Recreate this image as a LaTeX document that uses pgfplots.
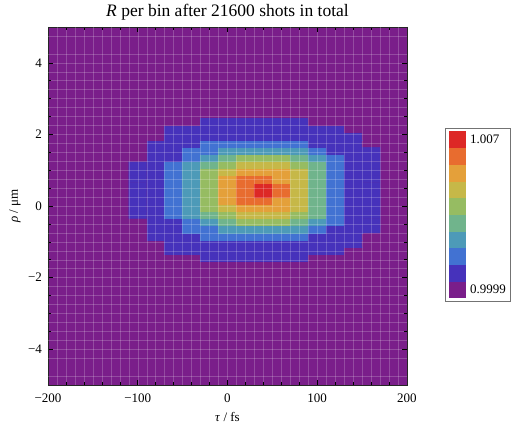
\documentclass[border=0pt]{standalone}
\usepackage{fontspec}
\setmainfont{Liberation Serif}
\usepackage{pgfplots}
\pgfplotsset{compat=1.18}
\definecolor{c0}{RGB}{122,30,138}
\begin{document}
\begin{tikzpicture}
\path[use as bounding box] (-48pt,-39pt) rectangle (466pt,385pt);
\begin{axis}[
  scale only axis, width=359pt, height=358pt,
  xmin=-200,xmax=200,ymin=-5,ymax=5,
  xtick={-200,-100,0,100,200}, xticklabels={−200,−100,0,100,200},
  ytick={-4,-2,0,2,4}, yticklabels={−4,−2,0,2,4},
  minor x tick num=4, minor y tick num=3,
  major tick length=5pt, minor tick length=3pt,
  tick style={black, line width=0.5pt},
  axis line style={black!85, line width=0.6pt},
  tick label style={font=\fontsize{13}{15}\selectfont},
  xticklabel style={anchor=base, yshift=-17pt},
  yticklabel style={anchor=east, xshift=-2.5pt},
  title={\textit{R} per bin after 21600 shots in total},
  title style={at={(axis description cs:0.5,1)}, anchor=base, yshift=4.5pt, font=\fontsize{17.5}{20}\selectfont},
  xlabel={\textit{τ} / fs}, ylabel={\textit{ρ} / μm},
  label style={font=\fontsize{13}{15}\selectfont},
  xlabel style={at={(axis description cs:0.5,-0.1006)}, anchor=base},
  ylabel style={at={(axis description cs:-0.092,0.5)}, anchor=center},
  axis background/.style={fill=c0},
  axis on top,
  grid=both,
  major grid style={white, opacity=0.2, line width=0.4pt},
  minor grid style={white, opacity=0.2, line width=0.4pt},
  extra x ticks={-190,-170,...,190},
  extra y ticks={-4.75,-4.25,...,4.75},
  extra x tick style={grid=major, xticklabel={}, tick style={draw=none}},
  extra y tick style={grid=major, yticklabel={}, tick style={draw=none}},
  colormap={lev}{rgb255(0cm)=(122,30,138); rgb255(1cm)=(70,50,187); rgb255(2cm)=(66,114,210); rgb255(3cm)=(77,154,184); rgb255(4cm)=(112,180,140); rgb255(5cm)=(150,188,98); rgb255(6cm)=(198,184,72); rgb255(7cm)=(228,160,58); rgb255(8cm)=(232,108,47); rgb255(9cm)=(221,40,38); rgb255(10cm)=(221,40,38)},
  colormap access=piecewise constant,
  point meta min=0.9999, point meta max=1.007,
  colorbar,
  colorbar style={
    scale only axis, width=18pt, height=167pt,
    at={(392pt,170.5pt)}, anchor=west,
    ytick={1.000255,1.006645}, yticklabels={0.9999,1.007},
    extra x ticks={}, extra y ticks={}, grid=none,
    major tick length=0pt, minor tick length=0pt,
    axis line style={draw=none},
    axis background/.style={},
    yticklabel style={font=\fontsize{13}{15}\selectfont, anchor=west, xshift=0pt},
    after end axis/.code={\draw[black!55, line width=0.6pt] ([xshift=-3pt,yshift=-3pt]rel axis cs:0,0) rectangle ([xshift=44pt,yshift=3pt]rel axis cs:1,1);},
  },
]
\addplot[matrix plot*, mesh/cols=14, point meta=explicit] coordinates {
(-100,-1.45)[1.0003] (-80,-1.45)[1.0003] (-60,-1.45)[1.0003] (-40,-1.45)[1.0003] (-20,-1.45)[1.0010] (0,-1.45)[1.0010] (20,-1.45)[1.0010] (40,-1.45)[1.0010] (60,-1.45)[1.0010] (80,-1.45)[1.0010] (100,-1.45)[1.0003] (120,-1.45)[1.0003] (140,-1.45)[1.0003] (160,-1.45)[1.0003]
(-100,-1.25)[1.0003] (-80,-1.25)[1.0003] (-60,-1.25)[1.0010] (-40,-1.25)[1.0010] (-20,-1.25)[1.0010] (0,-1.25)[1.0010] (20,-1.25)[1.0010] (40,-1.25)[1.0010] (60,-1.25)[1.0010] (80,-1.25)[1.0010] (100,-1.25)[1.0010] (120,-1.25)[1.0010] (140,-1.25)[1.0003] (160,-1.25)[1.0003]
(-100,-1.05)[1.0003] (-80,-1.05)[1.0003] (-60,-1.05)[1.0010] (-40,-1.05)[1.0010] (-20,-1.05)[1.0010] (0,-1.05)[1.0010] (20,-1.05)[1.0010] (40,-1.05)[1.0010] (60,-1.05)[1.0010] (80,-1.05)[1.0010] (100,-1.05)[1.0010] (120,-1.05)[1.0010] (140,-1.05)[1.0010] (160,-1.05)[1.0003]
(-100,-0.85)[1.0003] (-80,-0.85)[1.0010] (-60,-0.85)[1.0010] (-40,-0.85)[1.0010] (-20,-0.85)[1.0017] (0,-0.85)[1.0017] (20,-0.85)[1.0017] (40,-0.85)[1.0017] (60,-0.85)[1.0017] (80,-0.85)[1.0017] (100,-0.85)[1.0010] (120,-0.85)[1.0010] (140,-0.85)[1.0010] (160,-0.85)[1.0003]
(-100,-0.65)[1.0003] (-80,-0.65)[1.0010] (-60,-0.65)[1.0010] (-40,-0.65)[1.0017] (-20,-0.65)[1.0017] (0,-0.65)[1.0024] (20,-0.65)[1.0024] (40,-0.65)[1.0024] (60,-0.65)[1.0024] (80,-0.65)[1.0024] (100,-0.65)[1.0017] (120,-0.65)[1.0010] (140,-0.65)[1.0010] (160,-0.65)[1.0010]
(-100,-0.45)[1.0003] (-80,-0.45)[1.0010] (-60,-0.45)[1.0010] (-40,-0.45)[1.0017] (-20,-0.45)[1.0024] (0,-0.45)[1.0031] (20,-0.45)[1.0038] (40,-0.45)[1.0038] (60,-0.45)[1.0038] (80,-0.45)[1.0031] (100,-0.45)[1.0024] (120,-0.45)[1.0017] (140,-0.45)[1.0010] (160,-0.45)[1.0010]
(-100,-0.25)[1.0010] (-80,-0.25)[1.0010] (-60,-0.25)[1.0017] (-40,-0.25)[1.0024] (-20,-0.25)[1.0031] (0,-0.25)[1.0038] (20,-0.25)[1.0045] (40,-0.25)[1.0045] (60,-0.25)[1.0045] (80,-0.25)[1.0038] (100,-0.25)[1.0031] (120,-0.25)[1.0017] (140,-0.25)[1.0010] (160,-0.25)[1.0010]
(-100,-0.05)[1.0010] (-80,-0.05)[1.0010] (-60,-0.05)[1.0017] (-40,-0.05)[1.0024] (-20,-0.05)[1.0038] (0,-0.05)[1.0045] (20,-0.05)[1.0052] (40,-0.05)[1.0052] (60,-0.05)[1.0052] (80,-0.05)[1.0045] (100,-0.05)[1.0031] (120,-0.05)[1.0017] (140,-0.05)[1.0010] (160,-0.05)[1.0010]
(-100,0.15)[1.0010] (-80,0.15)[1.0010] (-60,0.15)[1.0017] (-40,0.15)[1.0024] (-20,0.15)[1.0038] (0,0.15)[1.0052] (20,0.15)[1.0059] (40,0.15)[1.0059] (60,0.15)[1.0052] (80,0.15)[1.0045] (100,0.15)[1.0031] (120,0.15)[1.0017] (140,0.15)[1.0010] (160,0.15)[1.0010]
(-100,0.35)[1.0010] (-80,0.35)[1.0010] (-60,0.35)[1.0017] (-40,0.35)[1.0024] (-20,0.35)[1.0038] (0,0.35)[1.0052] (20,0.35)[1.0059] (40,0.35)[1.0066] (60,0.35)[1.0059] (80,0.35)[1.0045] (100,0.35)[1.0031] (120,0.35)[1.0017] (140,0.35)[1.0010] (160,0.35)[1.0010]
(-100,0.55)[1.0010] (-80,0.55)[1.0010] (-60,0.55)[1.0017] (-40,0.55)[1.0024] (-20,0.55)[1.0038] (0,0.55)[1.0052] (20,0.55)[1.0059] (40,0.55)[1.0066] (60,0.55)[1.0059] (80,0.55)[1.0045] (100,0.55)[1.0031] (120,0.55)[1.0017] (140,0.55)[1.0010] (160,0.55)[1.0010]
(-100,0.75)[1.0010] (-80,0.75)[1.0010] (-60,0.75)[1.0017] (-40,0.75)[1.0024] (-20,0.75)[1.0038] (0,0.75)[1.0052] (20,0.75)[1.0059] (40,0.75)[1.0059] (60,0.75)[1.0052] (80,0.75)[1.0045] (100,0.75)[1.0031] (120,0.75)[1.0017] (140,0.75)[1.0010] (160,0.75)[1.0010]
(-100,0.95)[1.0010] (-80,0.95)[1.0010] (-60,0.95)[1.0017] (-40,0.95)[1.0024] (-20,0.95)[1.0038] (0,0.95)[1.0045] (20,0.95)[1.0052] (40,0.95)[1.0052] (60,0.95)[1.0052] (80,0.95)[1.0045] (100,0.95)[1.0031] (120,0.95)[1.0017] (140,0.95)[1.0010] (160,0.95)[1.0010]
(-100,1.15)[1.0010] (-80,1.15)[1.0010] (-60,1.15)[1.0017] (-40,1.15)[1.0024] (-20,1.15)[1.0031] (0,1.15)[1.0038] (20,1.15)[1.0045] (40,1.15)[1.0045] (60,1.15)[1.0045] (80,1.15)[1.0038] (100,1.15)[1.0031] (120,1.15)[1.0017] (140,1.15)[1.0010] (160,1.15)[1.0010]
(-100,1.35)[1.0003] (-80,1.35)[1.0010] (-60,1.35)[1.0010] (-40,1.35)[1.0017] (-20,1.35)[1.0024] (0,1.35)[1.0031] (20,1.35)[1.0038] (40,1.35)[1.0038] (60,1.35)[1.0038] (80,1.35)[1.0031] (100,1.35)[1.0024] (120,1.35)[1.0017] (140,1.35)[1.0010] (160,1.35)[1.0010]
(-100,1.55)[1.0003] (-80,1.55)[1.0010] (-60,1.55)[1.0010] (-40,1.55)[1.0017] (-20,1.55)[1.0017] (0,1.55)[1.0024] (20,1.55)[1.0024] (40,1.55)[1.0024] (60,1.55)[1.0024] (80,1.55)[1.0024] (100,1.55)[1.0017] (120,1.55)[1.0010] (140,1.55)[1.0010] (160,1.55)[1.0010]
(-100,1.75)[1.0003] (-80,1.75)[1.0010] (-60,1.75)[1.0010] (-40,1.75)[1.0010] (-20,1.75)[1.0017] (0,1.75)[1.0017] (20,1.75)[1.0017] (40,1.75)[1.0017] (60,1.75)[1.0017] (80,1.75)[1.0017] (100,1.75)[1.0010] (120,1.75)[1.0010] (140,1.75)[1.0010] (160,1.75)[1.0003]
(-100,1.95)[1.0003] (-80,1.95)[1.0003] (-60,1.95)[1.0010] (-40,1.95)[1.0010] (-20,1.95)[1.0010] (0,1.95)[1.0010] (20,1.95)[1.0010] (40,1.95)[1.0010] (60,1.95)[1.0010] (80,1.95)[1.0010] (100,1.95)[1.0010] (120,1.95)[1.0010] (140,1.95)[1.0010] (160,1.95)[1.0003]
(-100,2.15)[1.0003] (-80,2.15)[1.0003] (-60,2.15)[1.0010] (-40,2.15)[1.0010] (-20,2.15)[1.0010] (0,2.15)[1.0010] (20,2.15)[1.0010] (40,2.15)[1.0010] (60,2.15)[1.0010] (80,2.15)[1.0010] (100,2.15)[1.0010] (120,2.15)[1.0010] (140,2.15)[1.0003] (160,2.15)[1.0003]
(-100,2.35)[1.0003] (-80,2.35)[1.0003] (-60,2.35)[1.0003] (-40,2.35)[1.0003] (-20,2.35)[1.0010] (0,2.35)[1.0010] (20,2.35)[1.0010] (40,2.35)[1.0010] (60,2.35)[1.0010] (80,2.35)[1.0010] (100,2.35)[1.0003] (120,2.35)[1.0003] (140,2.35)[1.0003] (160,2.35)[1.0003]
};
\end{axis}
\end{tikzpicture}
\end{document}
